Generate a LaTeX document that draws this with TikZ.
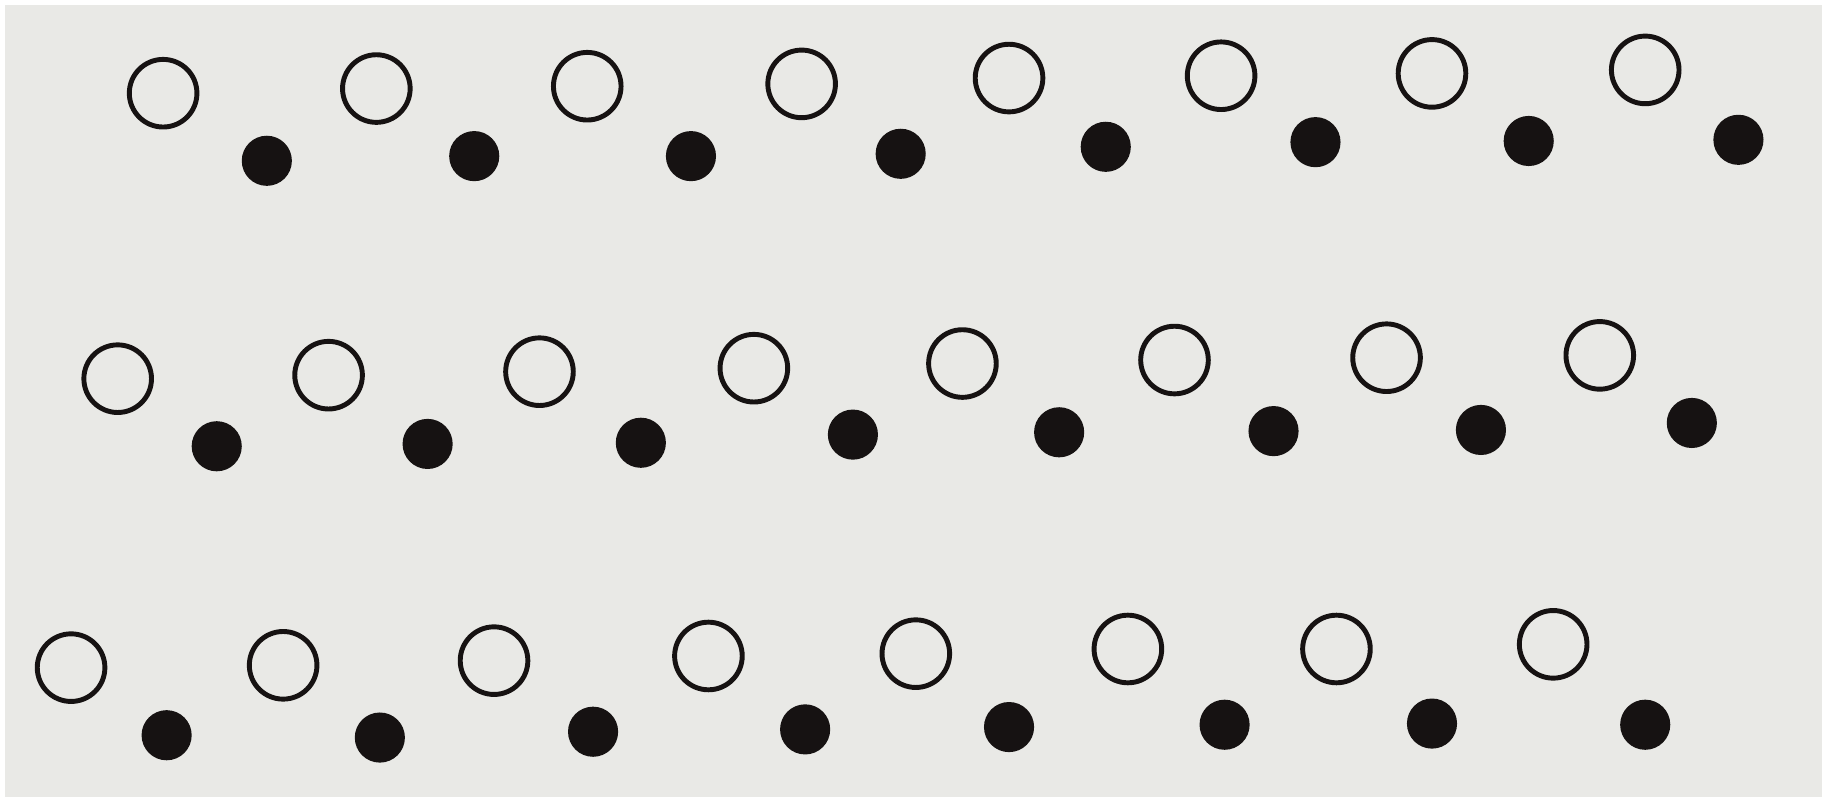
\documentclass[tikz,border=0pt]{standalone}
\usepackage{xcolor}
\usepackage{tikz}
\usetikzlibrary{positioning}

\definecolor{paper}{RGB}{233,233,230}
\definecolor{ink}{RGB}{22,18,18}

\begin{document}
\begin{tikzpicture}[
      x=0.01cm, y=-0.01cm,
      ring/.style={circle, draw=ink, line width=1.2pt, minimum size=0.58cm, inner sep=0pt},
      dot/.style={circle, fill=ink, minimum size=0.43cm, inner sep=0pt}
    ]
      \useasboundingbox (0,0) rectangle (1568,688);
      \fill[white] (0,0) rectangle (1568,688);
      \fill[paper] (4,4) rectangle (1564,684);
      % row 1
      \foreach \x/\y [count=\i] in {140/80,323/76,504/74,688/72,866/67,1048/65,1229/63,1412/60}
        \node[ring] (o-1-\i) at (\x,\y) {};
      \foreach \x/\y [count=\i] in {229/138,407/134,593/134,773/132,949/126,1129/122,1312/121,1492/120}
        \node[dot] (d-1-\i) at (\x,\y) {};
      % row 2
      \foreach \x/\y [count=\i] in {101/325,282/322,463/319,647/316,826/312,1008/309,1190/307,1373/305}
        \node[ring] (o-2-\i) at (\x,\y) {};
      \foreach \x/\y [count=\i] in {186/383,367/381,550/380,732/373,909/371,1093/370,1271/369,1452/363}
        \node[dot] (d-2-\i) at (\x,\y) {};
      % row 3
      \foreach \x/\y [count=\i] in {61/573,243/571,424/567,608/563,786/561,968/557,1147/557,1333/553}
        \node[ring] (o-3-\i) at (\x,\y) {};
      \foreach \x/\y [count=\i] in {143/631,326/633,509/628,691/626,866/624,1051/622,1229/621,1412/622}
        \node[dot] (d-3-\i) at (\x,\y) {};
    \end{tikzpicture}
\end{document}
